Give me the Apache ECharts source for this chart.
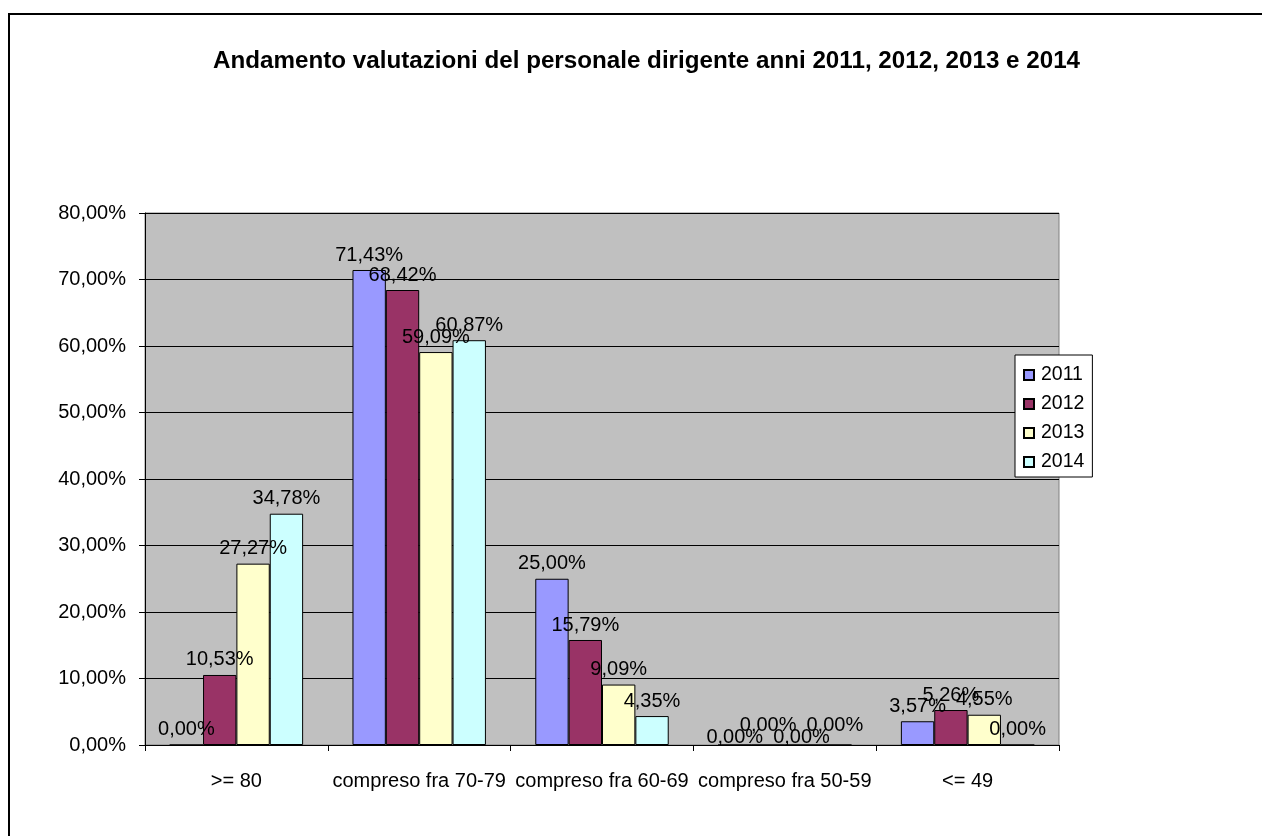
<!DOCTYPE html>
<html>
<head>
<meta charset="utf-8">
<script src="https://cdn.jsdelivr.net/npm/echarts@6/dist/echarts.min.js"></script>
<style>
html,body{margin:0;padding:0;background:#fff;}
#chart{width:1262px;height:836px;}
</style>
</head>
<body>
<div id="chart"></div>
<script>
const title = 'Andamento valutazioni del personale dirigente anni 2011, 2012, 2013 e 2014';
const categories = ['>= 80', 'compreso fra 70-79', 'compreso fra 60-69', 'compreso fra 50-59', '<= 49'];
const seriesNames = ['2011', '2012', '2013', '2014'];
const values2011 = [0.00, 71.43, 25.00, 0.00, 3.57];
const values2012 = [10.53, 68.42, 15.79, 0.00, 5.26];
const values2013 = [27.27, 59.09, 9.09, 0.00, 4.55];
const values2014 = [34.78, 60.87, 4.35, 0.00, 0.00];
const colors = ['#9999FF', '#993366', '#FFFFCC', '#CCFFFF'];
const allValues = [values2011, values2012, values2013, values2014];

const fmt = v => v.toFixed(2).replace('.', ',') + '%';
const FONT = 'Liberation Sans, Arial, sans-serif';

// stagger labels of adjacent zero-height bars (as the original does) so they don't sit on each other
function zeroNeighbour(s, d) {
  if (allValues[s][d] !== 0) return false;
  const prev = s > 0 && allValues[s - 1][d] === 0;
  const next = s < allValues.length - 1 && allValues[s + 1][d] === 0;
  return prev || next;
}

const chart = echarts.init(document.getElementById('chart'));
chart.setOption({
  backgroundColor: '#ffffff',
  animation: false,
  textStyle: { fontFamily: FONT },
  title: {
    text: title,
    left: 208,
    top: 44,
    textStyle: { fontFamily: FONT, fontSize: 24.2, fontWeight: 'bold', color: '#000' }
  },
  graphic: [{
    type: 'rect',
    shape: { x: 9, y: 14, width: 3000, height: 3000 },
    style: { fill: 'none', stroke: '#000', lineWidth: 2 },
    silent: true
  }],
  legend: {
    orient: 'vertical',
    left: 1015,
    top: 355,
    data: seriesNames,
    backgroundColor: '#fff',
    borderColor: '#000',
    borderWidth: 1,
    borderRadius: 0,
    padding: [10, 8, 5, 8],
    itemGap: 9,
    itemWidth: 10,
    itemHeight: 10,
    icon: 'rect',
    textStyle: { fontFamily: FONT, fontSize: 19.5, color: '#000', padding: [0, 0, 0, 2] }
  },
  grid: {
    left: 145, top: 213, width: 914, height: 532,
    show: true,
    backgroundColor: '#C0C0C0',
    borderColor: '#808080',
    borderWidth: 1
  },
  xAxis: {
    type: 'category',
    data: categories,
    axisLine: { lineStyle: { color: '#000', width: 1 } },
    axisTick: { show: true, length: 6, lineStyle: { color: '#000' } },
    axisLabel: { fontFamily: FONT, fontSize: 20, color: '#000', margin: 26, interval: 0 }
  },
  yAxis: {
    type: 'value',
    min: 0, max: 80, interval: 10,
    axisLine: { show: true, lineStyle: { color: '#000', width: 1 } },
    axisTick: { show: true, length: 6, lineStyle: { color: '#000' } },
    splitLine: { show: true, lineStyle: { color: '#000', width: 1 } },
    axisLabel: { fontFamily: FONT, fontSize: 20, color: '#000', margin: 19, formatter: v => fmt(v) }
  },
  series: seriesNames.map((name, i) => ({
    name: name,
    type: 'bar',
    data: allValues[i],
    barGap: '0%',
    barCategoryGap: '27%',
    itemStyle: { color: colors[i], borderColor: '#000', borderWidth: 1 },
    label: {
      show: true,
      position: 'top',
      distance: 5,
      fontFamily: FONT,
      fontSize: 20,
      color: '#000',
      formatter: p => fmt(p.value)
    },
    labelLayout: function (params) {
      const d = params.dataIndex;
      if (zeroNeighbour(i, d)) {
        return { dy: (i % 2 === 1) ? -4 : 8 };
      }
      return {};
    }
  }))
});
</script>
</body>
</html>
